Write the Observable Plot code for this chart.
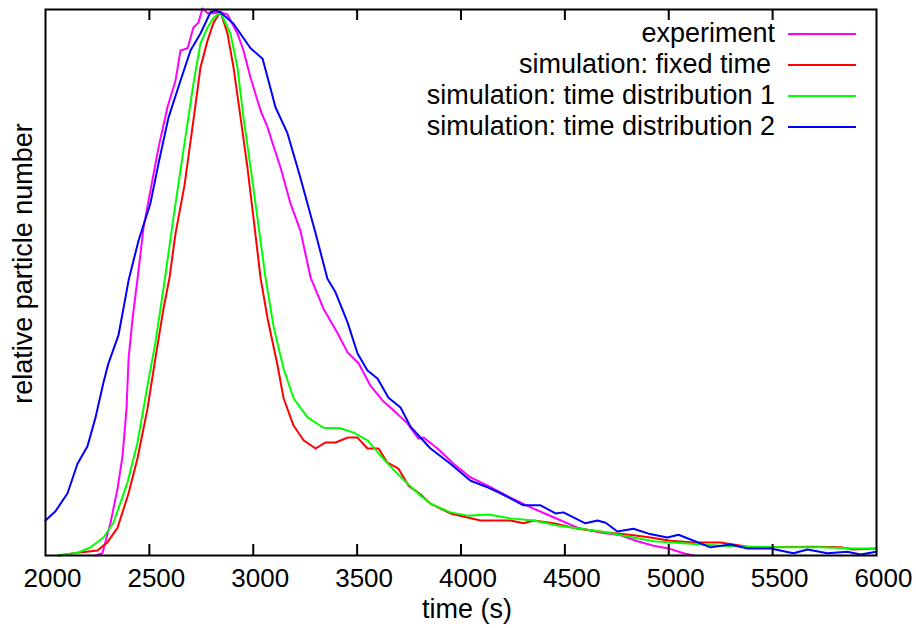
<!DOCTYPE html>
<html><head><meta charset="utf-8">
<script src="https://cdn.jsdelivr.net/npm/d3@7"></script>
<script src="https://cdn.jsdelivr.net/npm/@observablehq/plot@0.6"></script>
<style>
body{margin:0;background:#fff;}
#wrap{position:relative;width:916px;height:628px;font-family:"Liberation Sans",Arial,sans-serif;}
#legend{position:absolute;top:18px;right:60px;font-size:27px;color:#000;}
.row{display:flex;justify-content:flex-end;align-items:center;height:31px;}
.row span.t{line-height:31px;white-space:pre;}
.row span.s{display:inline-block;width:68px;height:2px;margin-left:13px;}
</style></head><body><div id="wrap"></div><script>
// x tick labels
const xTicks = [2000, 2500, 3000, 3500, 4000, 4500, 5000, 5500, 6000];
const innerTicks = [2500, 3000, 3500, 4000, 4500, 5000, 5500];
const xLabel = "time (s)";
const yLabel = "relative particle number";

// series names and colours
const seriesNames = ["experiment", "simulation: fixed time", "simulation: time distribution 1", "simulation: time distribution 2"];
const seriesColors = ["#ff00ff", "#ff0000", "#00ff00", "#0000ff"];

// experiment
const timeExperiment = [2241,2274,2313,2347,2371,2390,2400,2419,2443,2472,2505,2544,2587,2626,2650,2684,2712,2736,2756,2780,2809,2842,2876,2924,2953,2987,3035,3069,3093,3131,3179,3227,3276,3338,3406,3454,3507,3564,3622,3675,3742,3795,3820,3887,3964,4046,4128,4238,4349,4445,4561,4671,4768,4850,4927,4999,5071,5119];
const experiment = [0,0.004,0.060,0.123,0.183,0.269,0.361,0.434,0.507,0.601,0.668,0.747,0.821,0.870,0.925,0.929,0.967,0.976,1.002,0.993,0.993,0.995,0.991,0.956,0.925,0.875,0.815,0.784,0.755,0.711,0.645,0.595,0.509,0.452,0.407,0.372,0.352,0.311,0.284,0.266,0.242,0.214,0.216,0.196,0.168,0.143,0.128,0.106,0.086,0.070,0.051,0.042,0.037,0.026,0.018,0.013,0.004,0];

// simulation: fixed time
const timeFixed = [2063,2154,2250,2298,2347,2400,2443,2491,2529,2568,2597,2626,2669,2712,2746,2780,2809,2842,2876,2905,2939,2972,3001,3035,3069,3117,3146,3194,3242,3300,3348,3396,3454,3502,3550,3603,3646,3699,3747,3805,3853,3949,4094,4238,4301,4349,4445,4561,4705,4830,4912,5008,5119,5249,5379,5490,5697,5827,5889,6000];
const fixedTime = [0,0.005,0.009,0.024,0.051,0.114,0.178,0.269,0.361,0.452,0.509,0.590,0.678,0.797,0.894,0.943,0.976,0.996,0.956,0.894,0.802,0.711,0.619,0.509,0.434,0.348,0.288,0.238,0.211,0.196,0.207,0.207,0.216,0.216,0.196,0.196,0.170,0.159,0.128,0.112,0.095,0.077,0.064,0.064,0.059,0.064,0.059,0.049,0.042,0.037,0.033,0.027,0.024,0.024,0.016,0.015,0.016,0.015,0.011,0.013];

// simulation: time distribution 1
const timeDist1 = [2063,2154,2217,2279,2327,2395,2443,2491,2529,2568,2616,2664,2712,2746,2780,2809,2842,2890,2924,2953,2987,3020,3059,3097,3146,3194,3261,3338,3420,3483,3550,3613,3670,3742,3805,3853,3949,4031,4132,4238,4349,4464,4575,4705,4830,4927,5090,5249,5408,5572,5730,5889,6000];
const dist1 = [0,0.005,0.015,0.033,0.060,0.134,0.207,0.311,0.390,0.489,0.619,0.742,0.864,0.938,0.967,0.985,0.995,0.956,0.894,0.802,0.711,0.619,0.509,0.421,0.342,0.288,0.253,0.234,0.233,0.225,0.211,0.183,0.159,0.132,0.110,0.095,0.079,0.073,0.075,0.068,0.064,0.055,0.049,0.042,0.033,0.026,0.022,0.018,0.016,0.015,0.015,0.013,0.013];

// simulation: time distribution 2
const timeDist2 = [2000,2048,2106,2154,2202,2241,2279,2303,2351,2375,2400,2448,2505,2544,2592,2650,2698,2746,2794,2818,2842,2905,2987,3045,3073,3107,3165,3227,3300,3357,3396,3454,3502,3550,3598,3651,3709,3757,3853,3949,4046,4128,4190,4301,4383,4455,4493,4599,4657,4696,4753,4830,4903,4994,5047,5201,5297,5379,5490,5600,5668,5764,5860,5923,6000];
const dist2 = [0.064,0.081,0.114,0.168,0.200,0.253,0.317,0.352,0.403,0.452,0.504,0.577,0.645,0.718,0.802,0.870,0.925,0.956,0.995,0.998,0.995,0.974,0.929,0.910,0.870,0.821,0.773,0.692,0.590,0.507,0.482,0.427,0.370,0.339,0.324,0.289,0.271,0.236,0.196,0.168,0.137,0.125,0.114,0.092,0.092,0.077,0.079,0.059,0.064,0.060,0.044,0.049,0.040,0.033,0.038,0.015,0.020,0.013,0.013,0.004,0.011,0.004,0.007,0.002,0.007];

const toRows = (ts, vs) => ts.map((t, i) => ({t, v: vs[i]}));
const series = [
  toRows(timeExperiment, experiment),
  toRows(timeFixed, fixedTime),
  toRows(timeDist1, dist1),
  toRows(timeDist2, dist2)
];

const font = '"Liberation Sans", Arial, sans-serif';
const chart = Plot.plot({
  width: 916,
  height: 628,
  marginLeft: 45,
  marginRight: 40,
  marginTop: 9,
  marginBottom: 73,
  style: {fontFamily: font, fontSize: "26px", background: "#fff", color: "#000"},
  x: {domain: [2000, 6000]},
  y: {domain: [0, 1], axis: null},
  marks: [
    ...[0, 1, 2, 3].map(i => Plot.line(series[i], {x: "t", y: "v", stroke: seriesColors[i], strokeWidth: 2})),
    Plot.tickX(innerTicks, {x: d => d, insetTop: 535, stroke: "#000", strokeWidth: 2}),
    Plot.tickX(innerTicks, {x: d => d, insetBottom: 535, stroke: "#000", strokeWidth: 2}),
    Plot.frame({stroke: "#000", strokeWidth: 2}),
    Plot.axisX(xTicks, {tickSize: 0, tickPadding: 13, dx: 7, fontSize: 26, tickFormat: d => String(d), label: null}),
    Plot.text([xLabel], {frameAnchor: "bottom", dx: 6, dy: 62, lineAnchor: "bottom", textAnchor: "middle", fontSize: 27, fill: "#000"}),
    Plot.text([yLabel], {frameAnchor: "left", rotate: -90, dx: -14, dy: -19,
      lineAnchor: "bottom", textAnchor: "middle", fontSize: 27, fill: "#000"})
  ]
});
const wrap = document.getElementById("wrap");
wrap.appendChild(chart);

const legend = document.createElement("div");
legend.id = "legend";
seriesNames.forEach((name, i) => {
  const row = document.createElement("div");
  row.className = "row";
  const t = document.createElement("span");
  t.className = "t";
  t.textContent = name;
  if (i === 1) t.style.marginRight = "4px";
  const s = document.createElement("span");
  s.className = "s";
  s.style.background = seriesColors[i];
  row.appendChild(t);
  row.appendChild(s);
  legend.appendChild(row);
});
wrap.appendChild(legend);
</script></body></html>
